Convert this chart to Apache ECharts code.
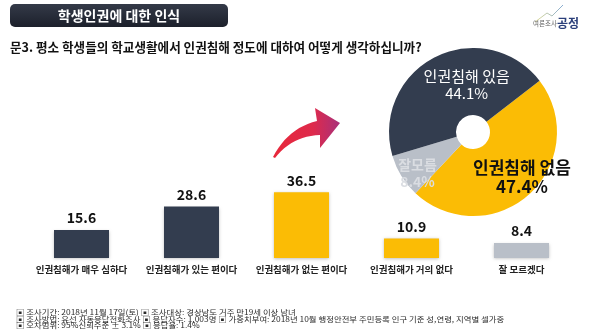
<!DOCTYPE html>
<html>
<head>
<meta charset="utf-8">
<script src="https://cdn.jsdelivr.net/npm/echarts@6/dist/echarts.min.js"></script>
<style>html,body{margin:0;padding:0;background:#fff}#c{width:599px;height:334px}</style>
</head>
<body>
<div id="c"></div>
<script>
// ---- data ----
const categories = ['인권침해가 매우 심하다','인권침해가 있는 편이다','인권침해가 없는 편이다','인권침해가 거의 없다','잘 모르겠다'];
const barValues = [15.6, 28.6, 36.5, 10.9, 8.4];
const pieNames = ['인권침해 없음','잘모름','인권침해 있음'];
const pieValues = [47.4, 8.4, 44.1];
const titleText = '학생인권에 대한 인식';
const questionText = '문3. 평소 학생들의 학교생활에서 인권침해 정도에 대하여 어떻게 생각하십니까?';
const footerLines = [
  '▣ 조사기간: 2018년 11월 17일(토) ▣ 조사대상: 경상남도 거주 만19세 이상 남녀',
  '▣ 조사방법: 유선 자동응답전화조사 ▣ 응답자수: 1,003명 ▣ 가중치부여: 2018년 10월 행정안전부 주민등록 인구 기준 성,연령, 지역별 셀가중',
  '▣ 오차범위: 95%신뢰수준 ± 3.1% ▣ 응답율: 1.4%'
];

// ---- styles ----
const NAVY = '#333d4f', YEL = '#fbbc05', GRAY = '#b9bfc8';
const barColors = [NAVY, NAVY, YEL, YEL, GRAY];
const pieColors = [YEL, GRAY, NAVY];
const pieLabelStyles = [
  {fontSize: 17, fontWeight: 'bold', color: '#111', lineHeight: 19, dx: 13, dy: 5},
  {fontSize: 14, fontWeight: 'bold', color: '#dadde2', lineHeight: 17, dx: -10, dy: 13},
  {fontSize: 15, fontWeight: 'normal', color: '#ffffff', lineHeight: 17, dx: 18, dy: 0}
];
const FONT = '"Noto Sans CJK KR", "Noto Sans", sans-serif';

// decorative arrow outline (quadratic curves sampled)
function quad(p0, c, p1, n) {
  const pts = [];
  for (let i = 0; i <= n; i++) {
    const t = i / n, u = 1 - t;
    pts.push([u*u*p0[0] + 2*u*t*c[0] + t*t*p1[0], u*u*p0[1] + 2*u*t*c[1] + t*t*p1[1]]);
  }
  return pts;
}
const arrowPts = [].concat(
  quad([273,157],[288,128],[317,121],12),
  [[315,108],[340,123],[320,148],[320,135]],
  quad([320,135],[292,136],[275,158],12)
);

const chart = echarts.init(document.getElementById('c'));
chart.setOption({
  animation: false,
  textStyle: {fontFamily: FONT},
  grid: {left: 26.5, right: 22.5, top: 78, bottom: 76},
  xAxis: {
    type: 'category', data: categories,
    axisLine: {show: false}, axisTick: {show: false},
    axisLabel: {fontSize: 9.5, color: '#222', fontWeight: 'bold', margin: 7, interval: 0, fontFamily: FONT}
  },
  yAxis: {type: 'value', min: 0, max: 100, show: false},
  series: [
    {
      type: 'bar', barWidth: 55,
      data: barValues.map((v, i) => ({value: v, itemStyle: {color: barColors[i]}})),
      itemStyle: {shadowBlur: 3, shadowColor: 'rgba(0,0,0,0.25)', shadowOffsetY: 1},
      label: {show: true, position: 'top', distance: 5, fontSize: 14, fontWeight: 'bold', color: '#111', fontFamily: FONT}
    },
    {
      type: 'pie', center: [473, 132], radius: [17, 84], startAngle: 37.6, clockwise: true,
      z: 5,
      data: pieValues.map((v, i) => ({
        value: v, name: pieNames[i],
        itemStyle: {color: pieColors[i]},
        label: {fontSize: pieLabelStyles[i].fontSize, fontWeight: pieLabelStyles[i].fontWeight,
                color: pieLabelStyles[i].color, lineHeight: pieLabelStyles[i].lineHeight}
      })),
      label: {show: true, position: 'inside', formatter: p => p.name + '\n' + p.value + '%', fontFamily: FONT, align: 'center'},
      labelLayout: p => ({dx: pieLabelStyles[p.dataIndex].dx, dy: pieLabelStyles[p.dataIndex].dy}),
      emphasis: {disabled: true}
    }
  ],
  graphic: [
    {type: 'rect', shape: {x: 10, y: 4, width: 218, height: 23, r: 5},
     style: {fill: new echarts.graphic.LinearGradient(0, 0, 0, 1, [{offset: 0, color: '#343a48'}, {offset: 1, color: '#1c202b'}])}},
    {type: 'text', x: 119, y: 15.5, style: {text: titleText, fill: '#fff', fontSize: 14, fontWeight: 'bold', fontFamily: FONT, align: 'center', verticalAlign: 'middle'}},
    {type: 'text', x: 10, y: 47, style: {text: questionText, fill: '#111', fontSize: 12.6, fontWeight: 'bold', fontFamily: FONT, verticalAlign: 'middle'}},
    {type: 'polyline', shape: {points: [[535, 22], [547, 13], [552, 16], [563, 5]]},
     style: {stroke: new echarts.graphic.LinearGradient(0, 0, 1, 0, [{offset: 0, color: '#e8e090'}, {offset: 1, color: '#7fa8d8'}]), lineWidth: 1, fill: null}},
    {type: 'text', x: 533, y: 24, style: {text: '여론조사', fill: '#666', fontSize: 6.5, fontFamily: FONT, verticalAlign: 'middle'}},
    {type: 'text', x: 557, y: 23.5, style: {text: '공정', fill: '#2b3f7a', fontSize: 12, fontWeight: 'bold', fontFamily: FONT, verticalAlign: 'middle'}},
    {type: 'polygon', shape: {points: arrowPts},
     style: {fill: new echarts.graphic.LinearGradient(0, 0, 1, 0, [{offset: 0, color: '#e8283a'}, {offset: 0.6, color: '#de2a4c'}, {offset: 1, color: '#a8307a'}])}},
    ...footerLines.map((t, i) => ({type: 'text', x: 16, y: 312.3 + i * 6.7, scaleX: 1.15,
      style: {text: t, fill: '#2a2a2a', fontSize: 7.3, fontFamily: FONT, verticalAlign: 'middle'}}))
  ]
});
</script>
</body>
</html>
